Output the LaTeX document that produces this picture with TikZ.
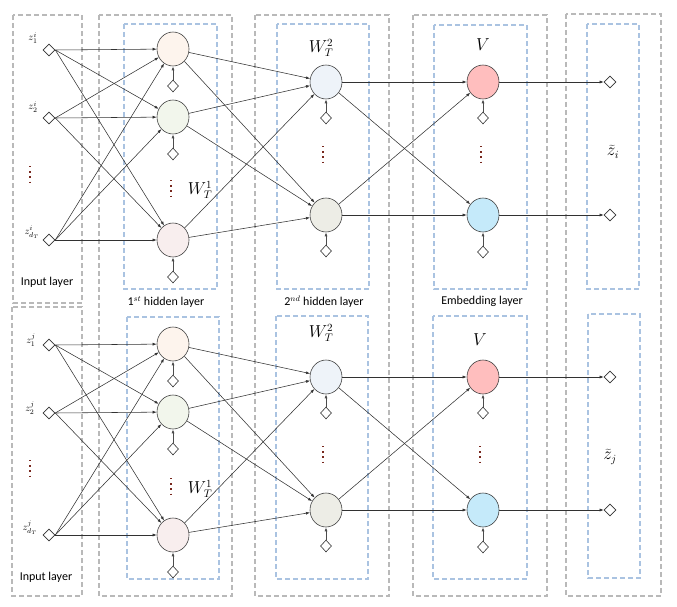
\documentclass[tikz,border=0pt]{standalone}
\usepackage{fontspec}
\setmainfont{Carlito}
\usetikzlibrary{shapes.geometric,arrows.meta}
\definecolor{graybox}{RGB}{185,185,185}
\definecolor{bluebox}{RGB}{170,195,225}
\definecolor{hOneA}{RGB}{253,244,237}
\definecolor{hOneB}{RGB}{242,246,236}
\definecolor{hOneC}{RGB}{248,238,238}
\definecolor{hTwoA}{RGB}{238,243,249}
\definecolor{hTwoB}{RGB}{237,237,230}
\definecolor{embA}{RGB}{255,190,190}
\definecolor{embB}{RGB}{197,234,250}
\definecolor{dotcol}{RGB}{120,40,30}
\definecolor{edgecol}{RGB}{50,50,50}
\begin{document}
\begin{tikzpicture}[x=1pt,y=-1pt,
  outerbox/.style={draw=graybox,dashed,dash pattern=on 5pt off 3pt,line width=1.3pt},
  innerbox/.style={draw=bluebox,dashed,dash pattern=on 5pt off 3pt,line width=1.3pt},
  neuron/.style={ellipse,draw=black!75,line width=0.6pt,inner sep=0pt,minimum width=32pt,minimum height=34pt},
  dia/.style={diamond,draw=black!80,fill=white,line width=0.6pt,inner sep=0pt,minimum width=12pt,minimum height=12pt},
  edge/.style={draw=edgecol,line width=0.55pt,-{Latex[length=4pt,width=3pt]}},
  bias/.style={draw=black!70,line width=0.9pt,-{Latex[length=4pt,width=3pt]}},
  vdotsline/.style={draw=dotcol,line width=1.3pt,dash pattern=on 1.3pt off 3.9pt},
  layertext/.style={font=\fontsize{12}{14}\selectfont,inner sep=0pt},
  smallmath/.style={font=\fontsize{10}{12}\selectfont,inner sep=0pt},
  bigmath/.style={font=\fontsize{16}{18}\selectfont,inner sep=0pt}
]
\useasboundingbox (0,0) rectangle (677,607);

% outer gray boxes
\draw[outerbox] (13,15) rectangle (82,303);
\draw[outerbox] (12,307) rectangle (82,596);
\draw[outerbox] (99,15) rectangle (232,596);
\draw[outerbox] (255,15) rectangle (389,596);
\draw[outerbox] (413,15) rectangle (547,596);
\draw[outerbox] (566,14) rectangle (661,596);

% inner blue boxes
\draw[innerbox] (124,24) rectangle (217,289);
\draw[innerbox] (127,317) rectangle (219,579);
\draw[innerbox] (277,24) rectangle (369,289);
\draw[innerbox] (276,316) rectangle (368,579);
\draw[innerbox] (434,25) rectangle (527,289);
\draw[innerbox] (433,316) rectangle (527,579);
\draw[innerbox] (587,24) rectangle (639,289);
\draw[innerbox] (588,314) rectangle (640,578);

% two networks
\foreach \s/\dy in {i/0,j/295}{
\begin{scope}[yshift=-\dy pt]
  \node[dia] (x1-\s) at (49,50) {};
  \node[dia] (x2-\s) at (49,118) {};
  \node[dia] (x3-\s) at (49,240) {};
  \node[neuron,fill=hOneA] (h1-\s) at (173,49) {};
  \node[neuron,fill=hOneB] (h2-\s) at (173,117) {};
  \node[neuron,fill=hOneC] (h3-\s) at (173,240) {};
  \node[dia,minimum width=11pt,minimum height=12pt] (bh1-\s) at (173,86) {};
  \node[dia,minimum width=11pt,minimum height=12pt] (bh2-\s) at (173,154) {};
  \node[dia,minimum width=11pt,minimum height=12pt] (bh3-\s) at (173,277) {};
  \node[neuron,fill=hTwoA] (g1-\s) at (326,82) {};
  \node[neuron,fill=hTwoB] (g2-\s) at (326,215) {};
  \node[dia,minimum width=11pt,minimum height=12pt] (bg1-\s) at (326,118) {};
  \node[dia,minimum width=11pt,minimum height=12pt] (bg2-\s) at (326,251) {};
  \node[neuron,fill=embA] (e1-\s) at (483,82) {};
  \node[neuron,fill=embB] (e2-\s) at (483,215) {};
  \node[dia,minimum width=11pt,minimum height=12pt] (be1-\s) at (483,118) {};
  \node[dia,minimum width=11pt,minimum height=12pt] (be2-\s) at (483,252) {};
  \node[dia] (o1-\s) at (610,82) {};
  \node[dia] (o2-\s) at (610,215) {};
  \foreach \a in {1,2,3}{
    \foreach \b in {1,2,3}{
      \draw[edge] (x\a-\s.east) -- (h\b-\s);
    }
    \foreach \c in {1,2}{
      \draw[edge] (h\a-\s) -- (g\c-\s);
    }
    \draw[bias] (bh\a-\s.north) -- (h\a-\s.south);
  }
  \foreach \c in {1,2}{
    \foreach \d in {1,2}{
      \draw[edge] (g\c-\s) -- (e\d-\s);
    }
    \draw[edge] (e\c-\s) -- (o\c-\s.west);
    \draw[bias] (bg\c-\s.north) -- (g\c-\s.south);
    \draw[bias] (be\c-\s.north) -- (e\c-\s.south);
  }
\end{scope}
}

% vertical dots
\draw[vdotsline] (30,166) -- (30,184);
\draw[vdotsline] (30,460) -- (30,478);
\draw[vdotsline] (171,180) -- (171,198);
\draw[vdotsline] (171,478) -- (171,496);
\draw[vdotsline] (323,146) -- (323,164);
\draw[vdotsline] (323,446) -- (323,464);
\draw[vdotsline] (481,146) -- (481,164);
\draw[vdotsline] (480,446) -- (480,464);

% input labels
\node[smallmath] (lz1i) at (33,38) {$z^{i}_{1}$};
\node[smallmath] (lz2i) at (33,107) {$z^{i}_{2}$};
\node[smallmath] (lz3i) at (32,232) {$z^{i}_{d_T}$};
\node[smallmath] (lz1j) at (31,340) {$z^{j}_{1}$};
\node[smallmath] (lz2j) at (30,408) {$z^{j}_{2}$};
\node[smallmath] (lz3j) at (30,528) {$z^{j}_{d_T}$};

% weight labels
\node[bigmath] (w1i) at (200,190) {$W_T^1$};
\node[bigmath] (w1j) at (200,489) {$W_T^1$};
\node[bigmath] (w2i) at (321,48) {$W_T^2$};
\node[bigmath] (w2j) at (321,333) {$W_T^2$};
\node[bigmath] (vi) at (483,45) {$V$};
\node[bigmath] (vj) at (480,340) {$V$};
\node[bigmath] (zti) at (613,152) {$\widetilde{z}_i$};
\node[bigmath] (ztj) at (610,457) {$\widetilde{z}_j$};

% layer labels
\node[layertext] (lin1) at (47,282) {Input layer};
\node[layertext] (lin2) at (46,577) {Input layer};
\node[layertext] (lh1) at (166,302) {1$^{st}$ hidden layer};
\node[layertext] (lh2) at (324,302) {2$^{nd}$ hidden layer};
\node[layertext] (lemb) at (482,301) {Embedding layer};
\end{tikzpicture}
\end{document}
